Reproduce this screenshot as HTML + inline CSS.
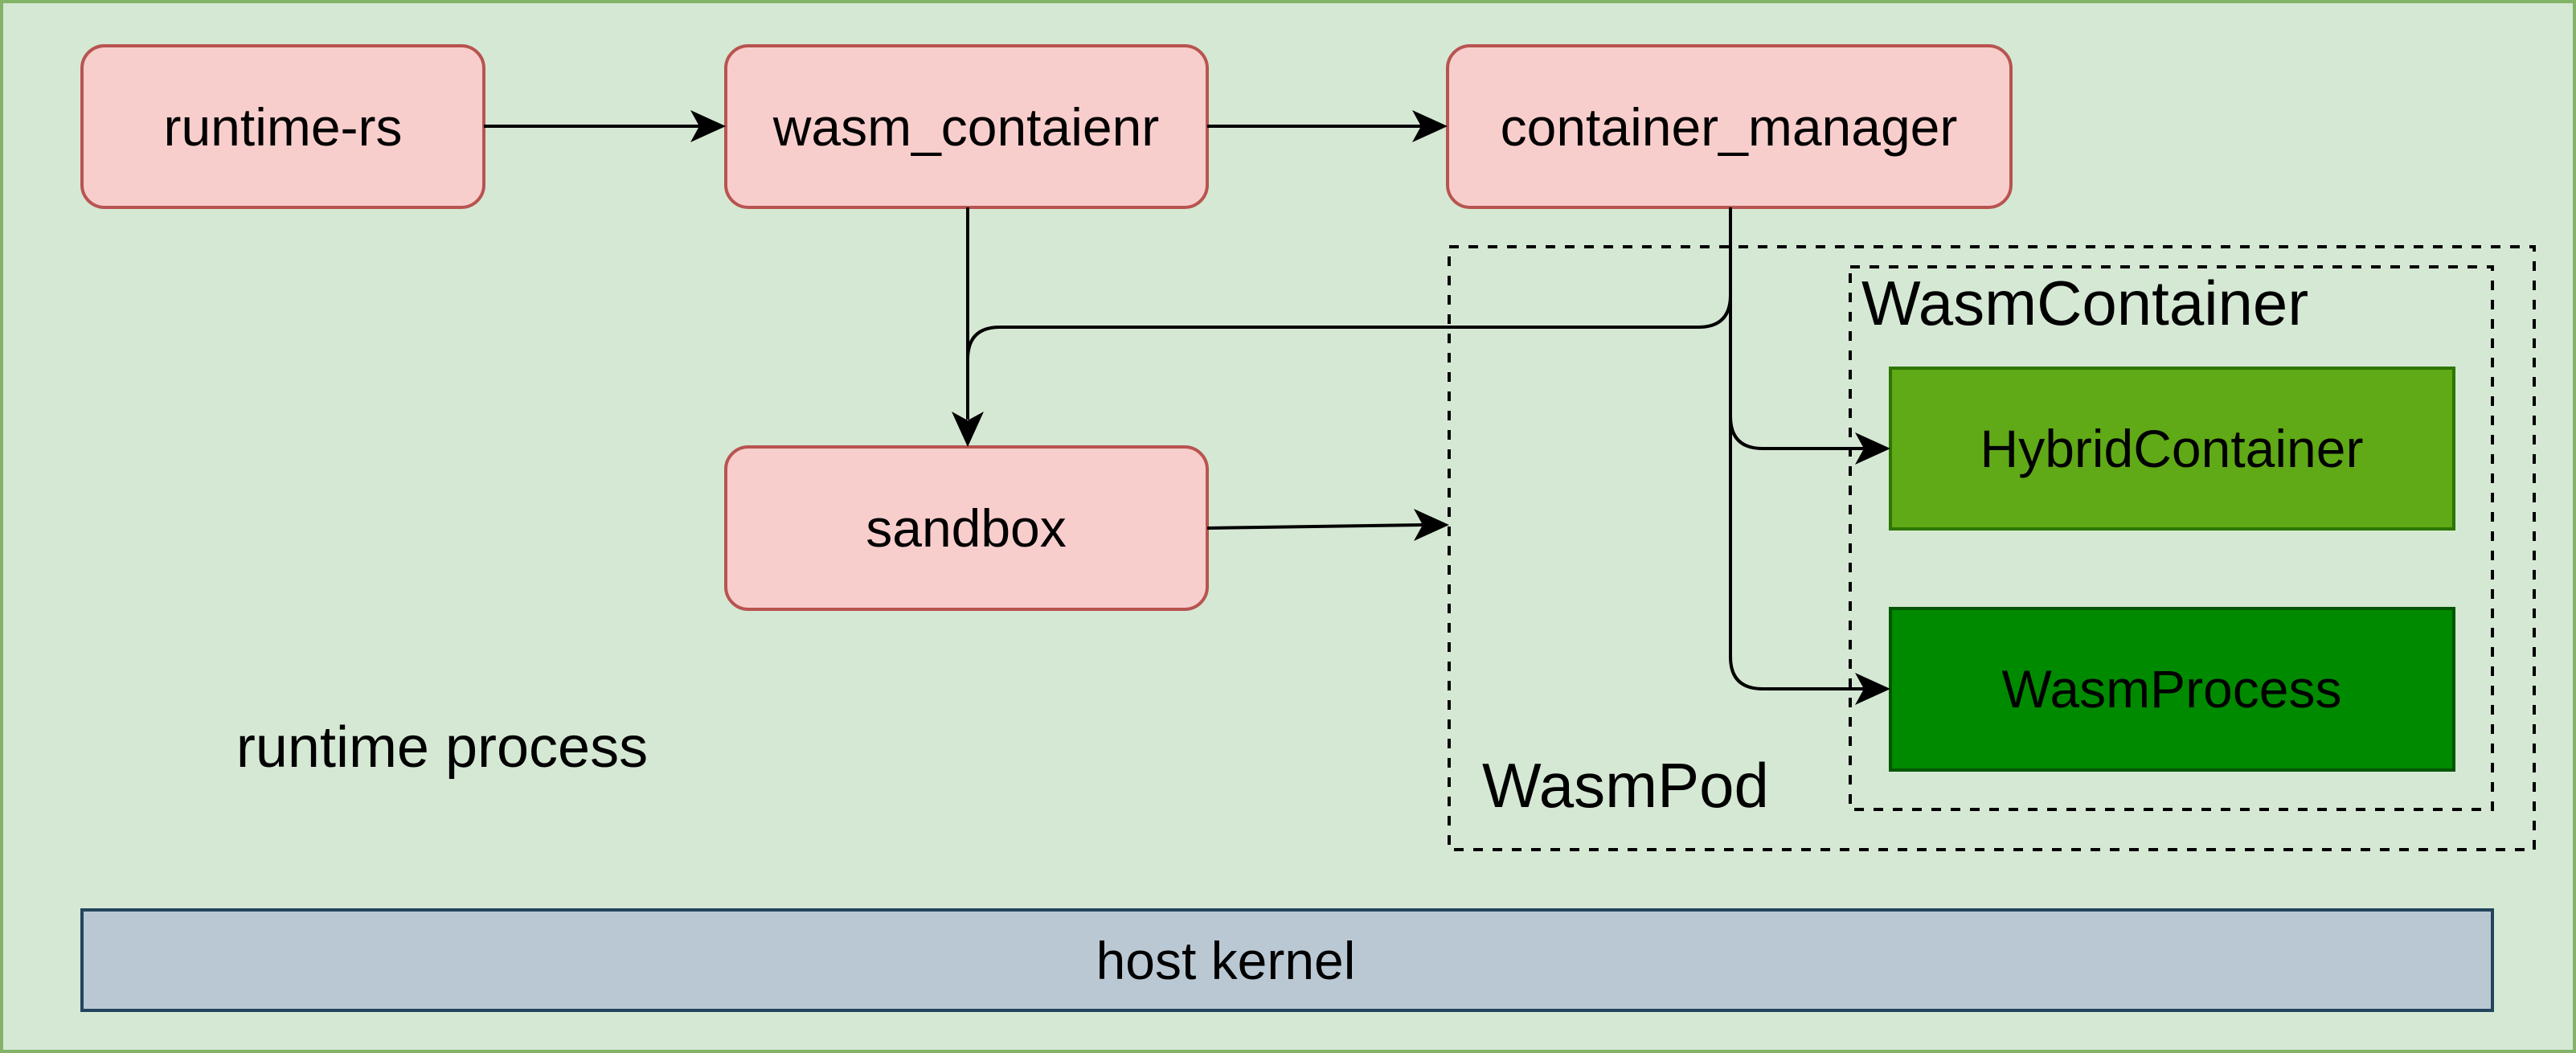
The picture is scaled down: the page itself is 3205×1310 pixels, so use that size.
<!DOCTYPE html>
<html><head><meta charset="utf-8"><style>
html,body{margin:0;padding:0;background:#fff}
svg{display:block}
text{font-family:"Liberation Sans",Arial,sans-serif;fill:#000}
</style></head><body>
<svg width="3205" height="1310" viewBox="0 0 3205 1310" xmlns="http://www.w3.org/2000/svg">
<rect x="2" y="2" width="3201" height="1306" fill="#d5e8d4" stroke="#82b366" stroke-width="4"/>
<g fill="#f8cecc" stroke="#b85450" stroke-width="4">
<rect x="102" y="57" width="500" height="201" rx="28"/>
<rect x="903" y="57" width="599" height="201" rx="28"/>
<rect x="1801" y="57" width="701" height="201" rx="28"/>
<rect x="903" y="556" width="599" height="202" rx="28"/>
</g>
<rect x="1803" y="307" width="1350" height="750" fill="none" stroke="#000" stroke-width="4" stroke-dasharray="12 12"/>
<rect x="2302" y="332" width="799" height="675" fill="none" stroke="#000" stroke-width="4" stroke-dasharray="12 12"/>
<rect x="2352" y="458" width="701" height="200" fill="#60a917" stroke="#2d7600" stroke-width="4"/>
<rect x="2352" y="757" width="701" height="201" fill="#008a00" stroke="#005700" stroke-width="4"/>
<rect x="102" y="1132" width="2999" height="125" fill="#bac8d3" stroke="#23445d" stroke-width="4"/>
<g fill="none" stroke="#000" stroke-width="4">
<path d="M602 157 L870 157"/>
<path d="M1502 157 L1768 157"/>
<path d="M1204 258 L1204 522"/>
<path d="M2153 258 L2153 367 Q2153 407 2113 407 L1244 407 Q1204 407 1204 447"/>
<path d="M2153 367 L2153 518 Q2153 558 2193 558 L2319 558"/>
<path d="M2153 518 L2153 817 Q2153 857 2193 857 L2319 857"/>
<path d="M1502 657 L1770 653"/>
</g>
<g fill="#000">
<polygon points="903,157 859,137 870,157 859,177"/>
<polygon points="1801,157 1757,137 1768,157 1757,177"/>
<polygon points="1204,556 1184,512 1204,523 1224,512"/>
<polygon points="2352,558 2308,538 2319,558 2308,578"/>
<polygon points="2352,857 2308,837 2319,857 2308,877"/>
<polygon points="1803,653 1759,633 1770,653 1759,673"/>
</g>
<g font-size="66" text-anchor="middle">
<text x="352" y="181">runtime-rs</text>
<text x="1202" y="181">wasm_contaienr</text>
<text x="2151" y="181">container_manager</text>
<text x="1202" y="680">sandbox</text>
<text x="2702" y="581">HybridContainer</text>
<text x="2702" y="880">WasmProcess</text>
<text x="1525" y="1218">host kernel</text>
</g>
<text x="550" y="954" font-size="72" text-anchor="middle">runtime process</text>
<text x="2316" y="404" font-size="78">WasmContainer</text>
<text x="1844" y="1004" font-size="78">WasmPod</text>
</svg>
</body></html>
